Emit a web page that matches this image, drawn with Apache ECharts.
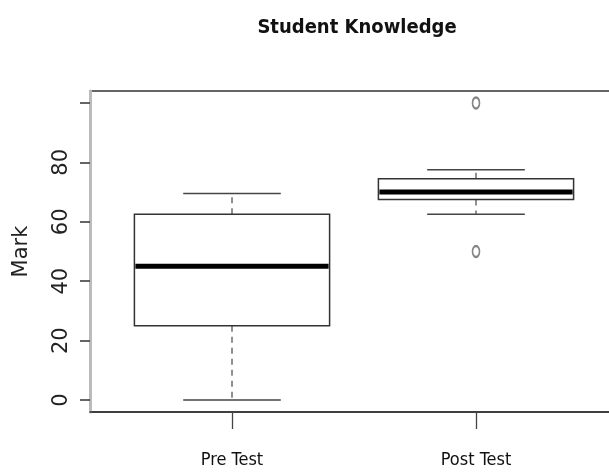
<!DOCTYPE html>
<html>
<head>
<meta charset="utf-8">
<script src="https://cdn.jsdelivr.net/npm/echarts@6/dist/echarts.min.js"></script>
<style>html,body{margin:0;padding:0;background:#fff;}#c{width:609px;height:476px;}</style>
</head>
<body>
<div id="c"></div>
<script>
// ---- data ----
const categories = ['Pre Test', 'Post Test'];
const whiskerLow = [0, 62.5];
const quartile1 = [25, 67.5];
const medians = [45, 70];
const quartile3 = [62.5, 74.5];
const whiskerHigh = [69.5, 77.5];
const outliers = [[2, 100], [2, 50]]; // [group position, value]
const yTicks = [0, 20, 40, 60, 80, 100];
const yLabels = [0, 20, 40, 60, 80];

const boxData = categories.map((c, i) => [i + 1, whiskerLow[i], quartile1[i], medians[i], quartile3[i], whiskerHigh[i]]);

const chart = echarts.init(document.getElementById('c'));
const narrow = "'Liberation Sans Narrow', 'Arial Narrow', 'DejaVu Sans Condensed', sans-serif";

function renderBox(params, api) {
  const x = api.value(0);
  const lo = api.coord([x, api.value(1)]);
  const q1 = api.coord([x, api.value(2)]);
  const md = api.coord([x, api.value(3)]);
  const q3 = api.coord([x, api.value(4)]);
  const hi = api.coord([x, api.value(5)]);
  const bl = api.coord([x - 0.4, 0])[0], br = api.coord([x + 0.4, 0])[0];
  const cl = api.coord([x - 0.2, 0])[0], cr = api.coord([x + 0.2, 0])[0];
  const cx = lo[0];
  const dash = { stroke: '#555', lineWidth: 1.3, lineDash: [6, 5] };
  const solid = { stroke: '#444', lineWidth: 1.5 };
  return {
    type: 'group',
    children: [
      { type: 'line', shape: { x1: cx, y1: q1[1], x2: cx, y2: lo[1] }, style: dash },
      { type: 'line', shape: { x1: cx, y1: q3[1], x2: cx, y2: hi[1] }, style: dash },
      { type: 'line', shape: { x1: cl, y1: lo[1], x2: cr, y2: lo[1] }, style: solid },
      { type: 'line', shape: { x1: cl, y1: hi[1], x2: cr, y2: hi[1] }, style: solid },
      { type: 'rect', shape: { x: bl, y: q3[1], width: br - bl, height: q1[1] - q3[1] }, style: { fill: '#fff', stroke: '#333', lineWidth: 1.5 } },
      { type: 'line', shape: { x1: bl + 1, y1: md[1], x2: br - 1, y2: md[1] }, style: { stroke: '#000', lineWidth: 5 } }
    ]
  };
}

chart.setOption({
  backgroundColor: '#fff',
  animation: false,
  title: {
    text: 'Student Knowledge',
    left: 352, top: 13, textAlign: 'center',
    textStyle: { fontFamily: narrow, fontWeight: 'bold', fontSize: 20, color: '#111' }
  },
  grid: { left: 90, top: 91, width: 528, height: 321, outerBoundsMode: 'none', containLabel: false, show: true, borderColor: '#333', borderWidth: 1.5, backgroundColor: 'transparent' },
  xAxis: {
    type: 'value', min: 0.418, max: 2.582,
    splitLine: { show: false },
    axisLine: { show: true, onZero: false, lineStyle: { color: '#333', width: 1.5 } },
    axisTick: { show: true, length: 17, customValues: [1, 2], lineStyle: { color: '#444', width: 1.3 } },
    axisLabel: {
      customValues: [1, 2], margin: 39,
      formatter: v => categories[Math.round(v) - 1] || '',
      fontFamily: narrow, fontSize: 18, color: '#111'
    }
  },
  yAxis: {
    type: 'value', min: -4, max: 104,
    name: 'Mark', nameLocation: 'middle', nameRotate: 90, nameGap: 58,
    nameTextStyle: { fontFamily: 'DejaVu Sans', fontSize: 21, color: '#222' },
    splitLine: { show: false },
    axisLine: { show: true, lineStyle: { color: '#bbb', width: 3 } },
    axisTick: { show: true, length: 10, customValues: yTicks, lineStyle: { color: '#333', width: 1.5 } },
    axisLabel: {
      customValues: yLabels, rotate: 90, margin: 18,
      fontFamily: 'DejaVu Sans', fontSize: 21, color: '#222'
    }
  },
  series: [
    { type: 'custom', renderItem: renderBox, data: boxData, clip: false, z: 3 },
    {
      type: 'scatter', data: outliers, symbol: 'emptyCircle', symbolSize: [7, 11],
      itemStyle: { color: '#666', borderColor: '#666', borderWidth: 1.1 }, z: 4
    }
  ]
});
</script>
</body>
</html>
